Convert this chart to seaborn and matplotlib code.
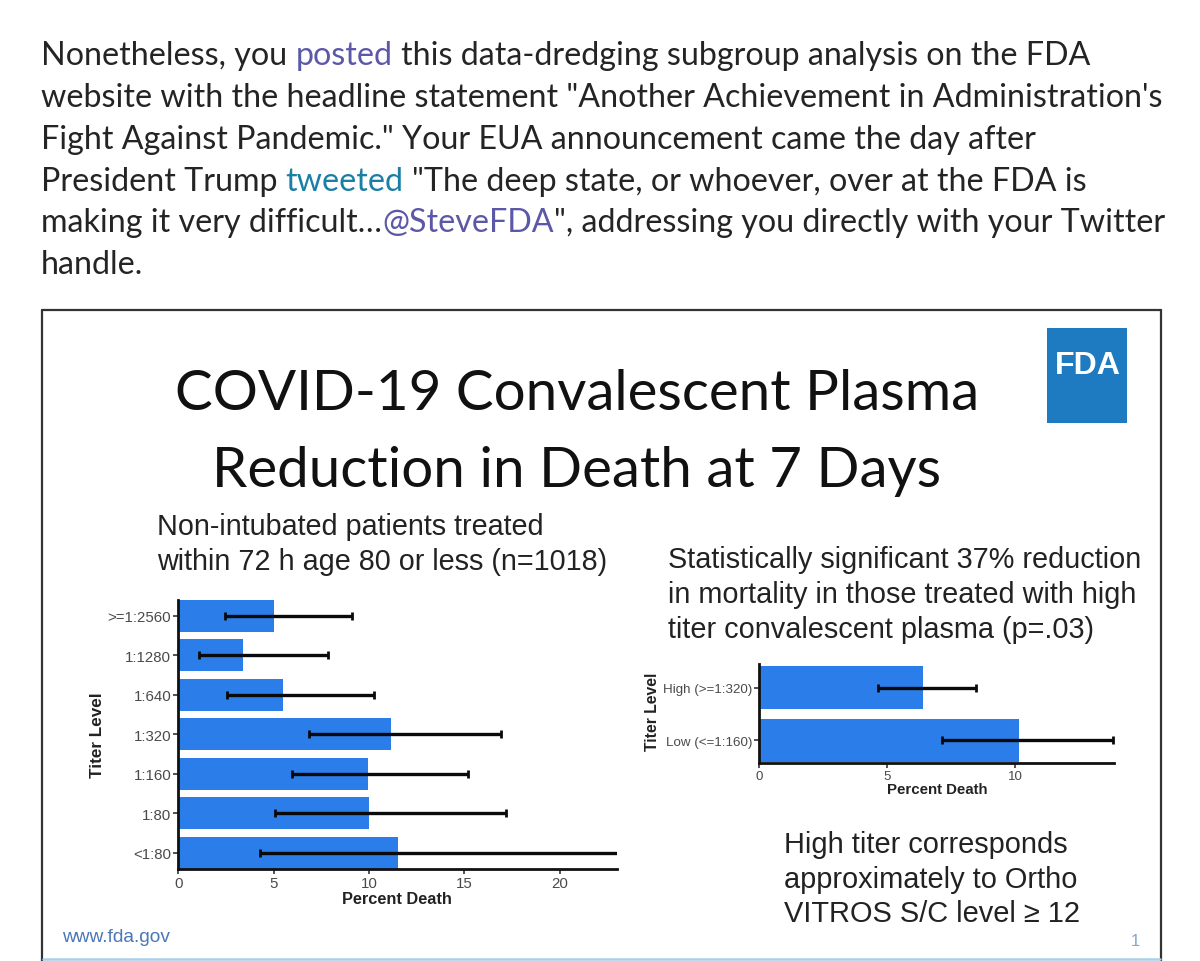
import numpy as np
import pandas as pd
import matplotlib
matplotlib.use("Agg")
import matplotlib.pyplot as plt
import seaborn as sns
from matplotlib import font_manager
from matplotlib.font_manager import FontProperties
from matplotlib.lines import Line2D
from matplotlib.patches import Rectangle

# ---------------- data ----------------
left_labels = [">=1:2560", "1:1280", "1:640", "1:320", "1:160", "1:80", "<1:80"]
left_pct = [5.0, 3.4, 5.5, 11.15, 9.95, 10.0, 11.5]
left_lo = [2.45, 1.1, 2.55, 6.85, 5.95, 5.05, 4.3]
left_hi = [9.1, 7.85, 10.25, 16.9, 15.2, 17.2, 24.0]
left_xticks = [0, 5, 10, 15, 20]

right_labels = ["High (>=1:320)", "Low (<=1:160)"]
right_pct = [6.4, 10.15]
right_lo = [4.65, 7.15]
right_hi = [8.45, 13.8]
right_xticks = [0, 5, 10]

article_lines = [
    [("Nonetheless, you ", "k"), ("posted", "p"), (" this data-dredging subgroup analysis on the FDA", "k")],
    [("website with the headline statement \"Another Achievement in Administration's", "k")],
    [("Fight Against Pandemic.\" Your EUA announcement came the day after", "k")],
    [("President Trump ", "k"), ("tweeted", "t"), (" \"The deep state, or whoever, over at the FDA is", "k")],
    [("making it very difficult\u2026", "k"), ("@SteveFDA", "p"), ("\", addressing you directly with your Twitter", "k")],
    [("handle.", "k")],
]
title_lines = ["COVID-19 Convalescent Plasma", "Reduction in Death at 7 Days"]
left_sub = ["Non-intubated patients treated", "within 72 h age 80 or less (n=1018)"]
right_sub = ["Statistically significant 37% reduction",
             "in mortality in those treated with high",
             "titer convalescent plasma (p=.03)"]
note_lines = ["High titer corresponds", "approximately to Ortho", "VITROS S/C level \u2265 12"]

# ---------------- style ----------------
W, H = 1200, 962
sns.set_theme(style="white")
avail = {f.name for f in font_manager.fontManager.ttflist}


def pick(*names):
    for n in names:
        if n in avail:
            return n
    return "DejaVu Sans"


ARTICLE = pick("Lato", "Open Sans", "Roboto")
TITLE = pick("Lato", "Open Sans", "Noto Sans")
ARIAL = pick("Liberation Sans", "Arial", "DejaVu Sans")
plt.rcParams["font.family"] = [ARIAL, "DejaVu Sans"]

BAR = "#2b7de9"
TXT = "#222222"
COLS = {"k": "#242424", "p": "#5b58a8", "t": "#1a7fa5"}

fig = plt.figure(figsize=(W / 100, H / 100), dpi=100)
fig.patch.set_facecolor("white")
renderer = fig.canvas.get_renderer()


def fx(x):
    return x / W


def fy(y):
    return 1 - y / H


def twidth(s, fp):
    w, h, d = renderer.get_text_width_height_descent(s, fp, ismath=False)
    return w


def fit_size(s, target, family, weight="normal", base=20.0):
    fp = FontProperties(family=family, size=base, weight=weight)
    return base * target / twidth(s, fp)


# ---------------- article text ----------------
art_size = fit_size("".join(s for s, _ in article_lines[0]), 1051, ARTICLE)
art_fp = FontProperties(family=ARTICLE, size=art_size)
art_base = [65, 107, 149, 191, 232, 274]
for line, yb in zip(article_lines, art_base):
    prefix = ""
    for s, c in line:
        stripped = s.lstrip(" ")
        prefix += s[: len(s) - len(stripped)]
        off = 0 if not prefix else twidth(prefix + "I", art_fp) - twidth("I", art_fp)
        fig.text(fx(41 + off), fy(yb), stripped, color=COLS[c], fontproperties=art_fp,
                 ha="left", va="baseline")
        prefix += stripped

# ---------------- slide frame ----------------
frame_c = "#333333"
fig.add_artist(Line2D([fx(42), fx(42)], [fy(311), fy(962)], color=frame_c, lw=1.6))
fig.add_artist(Line2D([fx(42), fx(1161)], [fy(311), fy(311)], color=frame_c, lw=1.6))
fig.add_artist(Line2D([fx(1161), fx(1161)], [fy(311), fy(962)], color=frame_c, lw=1.6))
fig.add_artist(Line2D([fx(43), fx(1160)], [fy(960), fy(960)], color="#a9d0e8", lw=1.8))

# FDA logo
fig.add_artist(Rectangle((fx(1047), fy(424)), 80 / W, 95 / H, transform=fig.transFigure,
                         facecolor="#1f7bc1", edgecolor="none"))
logo_size = fit_size("FDA", 66, ARIAL, weight="bold")
fig.text(fx(1055), fy(374), "FDA", color="white", fontsize=logo_size, fontweight="bold",
         family=ARIAL, ha="left", va="baseline")

# title
t_size = fit_size(title_lines[0], 805, TITLE)
for s, yb in zip(title_lines, [410, 487]):
    fig.text(fx(577), fy(yb), s, color="#111111", fontsize=t_size, family=TITLE,
             ha="center", va="baseline")

# subtitles
ls_size = fit_size(left_sub[1], 451, ARIAL)
for s, yb in zip(left_sub, [535, 570]):
    fig.text(fx(157), fy(yb), s, color=TXT, fontsize=ls_size, family=ARIAL, ha="left", va="baseline")
rs_size = fit_size(right_sub[0], 473, ARIAL)
for s, yb in zip(right_sub, [568, 603, 638]):
    fig.text(fx(668), fy(yb), s, color=TXT, fontsize=rs_size, family=ARIAL, ha="left", va="baseline")
n_size = fit_size(note_lines[1], 293, ARIAL)
for s, yb in zip(note_lines, [853, 888, 922]):
    fig.text(fx(784), fy(yb), s, color=TXT, fontsize=n_size, family=ARIAL, ha="left", va="baseline")

w_size = fit_size("www.fda.gov", 108, ARIAL)
fig.text(fx(62), fy(942), "www.fda.gov", color="#4a77b6", fontsize=w_size, family=ARIAL,
         ha="left", va="baseline")
fig.text(fx(1131), fy(946), "1", color="#7fa9cc", fontsize=12, family=ARIAL, ha="left", va="baseline")


# ---------------- charts ----------------
def style_axes(ax, xticks, xlim, ylim, tick_size, lab_size, xlab_px, ylab_px, box):
    x0, y0, x1, y1 = box
    ax.set_xlim(*xlim)
    ax.set_ylim(*ylim)
    ax.set_xticks(xticks)
    ax.set_xticklabels([str(t) for t in xticks])
    ax.set_facecolor("none")
    for sp in ["top", "right"]:
        ax.spines[sp].set_visible(False)
    for sp in ["left", "bottom"]:
        ax.spines[sp].set_color("#111111")
        ax.spines[sp].set_linewidth(2.0)
        ax.spines[sp].set_zorder(5)
    ax.tick_params(axis="both", direction="out", length=3.5, width=1.2, color="#333333",
                   labelsize=tick_size, labelcolor="#4a4a4a", pad=1.5,
                   bottom=True, left=True)
    ax.set_xlabel("Percent Death", fontsize=lab_size, fontweight="bold", color=TXT)
    ax.set_ylabel("Titer Level", fontsize=lab_size + 0.5, fontweight="bold", color=TXT)
    ax.xaxis.set_label_coords((xlab_px[0] - x0) / (x1 - x0), (y1 - xlab_px[1]) / (y1 - y0))
    ax.yaxis.set_label_coords((ylab_px[0] - x0) / (x1 - x0), (y1 - ylab_px[1]) / (y1 - y0))
    ax.xaxis.label.set_va("center")
    ax.yaxis.label.set_va("center")
    ax.grid(False)


def draw_chart(box, labels, pct, lo, hi, xticks, xlim, ylim, tick_size, lab_size, xlab_px, ylab_px):
    x0, y0, x1, y1 = box
    ax = fig.add_axes([fx(x0), fy(y1), (x1 - x0) / W, (y1 - y0) / H])
    df = pd.DataFrame({"titer": labels, "pct": pct})
    sns.barplot(data=df, x="pct", y="titer", orient="h", color=BAR, saturation=1,
                width=0.81, errorbar=None, linewidth=0, ax=ax)
    pos = np.arange(len(labels))
    p = np.array(pct)
    ax.errorbar(p, pos, xerr=[p - np.array(lo), np.array(hi) - p], fmt="none",
                ecolor="#0a0a0a", elinewidth=2.4, capsize=3.2, capthick=2.0, zorder=4)
    style_axes(ax, xticks, xlim, ylim, tick_size, lab_size, xlab_px, ylab_px, box)
    return ax


axL = draw_chart((178.3, 600.7, 617, 870), left_labels, left_pct, left_lo, left_hi,
                 left_xticks, (0, 23), (6.41, -0.41), 10.8, 11.8, (397, 900), (97, 735))
axR = draw_chart((759, 665, 1114, 764), right_labels, right_pct, right_lo, right_hi,
                 right_xticks, (0, 13.85), (1.43, -0.45), 9.6, 10.8, (937, 790), (653, 712))

fig.savefig("out.png", dpi=100, facecolor="white")
